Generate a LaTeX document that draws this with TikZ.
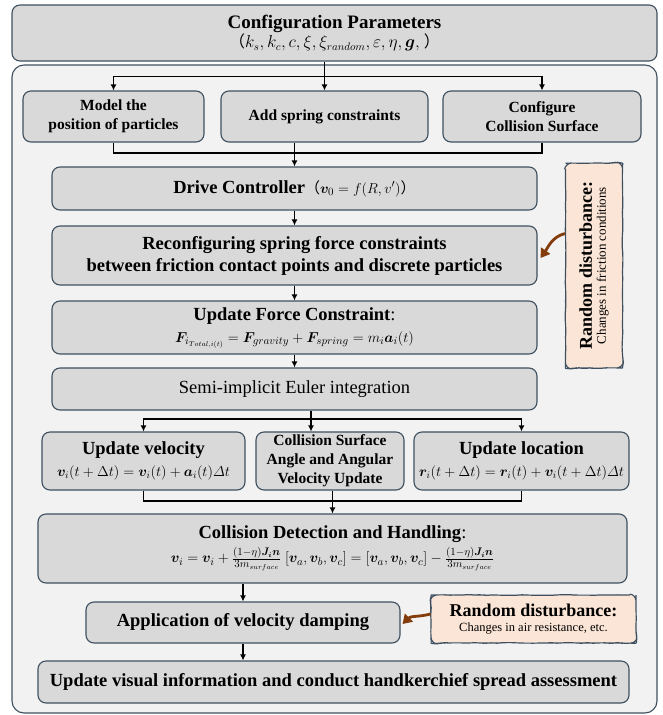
\documentclass[tikz,border=0pt]{standalone}
\usepackage{fontspec}
\usepackage{amsmath}
\usepackage{bm}
\setmainfont{Liberation Serif}
\newfontfamily\cjk{Noto Sans CJK SC}
\usetikzlibrary{arrows.meta,decorations.pathmorphing,calc}

\definecolor{boxfill}{HTML}{D9D9D9}
\definecolor{edge}{HTML}{3E5060}
\definecolor{panel}{HTML}{F2F2F2}
\definecolor{peach}{HTML}{FBE5D6}
\definecolor{rust}{HTML}{843C0C}

\begin{document}
\begin{tikzpicture}[x=1pt,y=1pt,
		box/.style={draw=edge,fill=boxfill,rounded corners=8pt,line width=1.1pt,align=center,inner sep=2pt},
		big/.style={font=\fontsize{18.5}{22}\selectfont\bfseries},
		mid/.style={font=\fontsize{15.5}{19}\selectfont\bfseries},
		note/.style={draw=edge,fill=peach,line width=1.1pt,align=center,inner sep=2pt,
			decorate,decoration={random steps,segment length=6pt,amplitude=0.4pt},rounded corners=6pt},
		line/.style={line width=1.8pt},
		arr/.style={line width=1.8pt,-{Latex[length=6pt,width=6pt]}},
		hint/.style={rust,line width=2.8pt,-{Triangle[length=9pt,width=11pt]}}
	]
	\pgfmathsetseed{7}
	\useasboundingbox (0,0) rectangle (662,-715);

	% outer panel
	\draw[draw=edge,fill=panel,line width=1.1pt,rounded corners=12pt] (12,-65) rectangle (657,-713);

	% parameters
	\node[box,minimum width=645pt,minimum height=56pt] (config) at (334.5,-33)
		{{\fontsize{19}{23}\selectfont\bfseries Configuration Parameters}\\
		 {\fontsize{16}{19}\selectfont{\cjk （}$k_s, k_c, c, \xi, \xi_{random}, \varepsilon, \eta, \bm{g},$\ {\cjk ）}}};

	% first row
	\node[box,mid,minimum width=181pt,minimum height=51pt] (model) at (113.5,-116.5) {Model the\\position of particles};
	\node[box,mid,minimum width=207pt,minimum height=51pt] (spring) at (324.5,-116.5) {Add spring constraints};
	\node[box,mid,minimum width=198pt,minimum height=51pt] (surface) at (542,-116.5) {Configure\\Collision Surface};

	% main column
	\node[box,big,minimum width=485pt,minimum height=43pt] (drive) at (294.5,-188.5)
		{Drive Controller{\mdseries\fontsize{15}{18}\selectfont{\cjk （}$\bm{v}_0 = f(R,v')${\cjk ）}}};
	\node[box,big,minimum width=485pt,minimum height=59pt] (reconfig) at (294.5,-255.5)
		{Reconfiguring spring force constraints\\between friction contact points and discrete particles};
	\node[box,big,minimum width=485pt,minimum height=53pt] (force) at (294.5,-327.5)
		{Update Force Constraint{\mdseries :}\\
		 {\mdseries\fontsize{15}{17}\selectfont$\bm{F}_{i_{Total,i(t)}} = \bm{F}_{gravity} + \bm{F}_{spring} = m_i\bm{a}_i(t)$}};
	\node[box,font=\fontsize{18.5}{22}\selectfont,minimum width=485pt,minimum height=42pt] (euler) at (294.5,-389)
		{Semi-implicit Euler integration};

	% second row
	\node[box,big,minimum width=203pt,minimum height=58pt] (velocity) at (143.5,-461)
		{Update velocity\\
		 {\mdseries\fontsize{14}{17}\selectfont$\bm{v}_i(t+\Delta t) = \bm{v}_i(t) + \bm{a}_i(t)\varDelta t$}};
	\node[box,mid,minimum width=148pt,minimum height=58pt] (angle) at (330,-461)
		{Collision Surface\\Angle and Angular\\Velocity Update};
	\node[box,big,minimum width=215pt,minimum height=58pt] (location) at (521.5,-461)
		{Update location\\
		 {\mdseries\fontsize{14}{17}\selectfont$\bm{r}_i(t+\Delta t) = \bm{r}_i(t) + \bm{v}_i(t+\Delta t)\varDelta t$}};

	% lower column
	\node[box,big,minimum width=589pt,minimum height=69pt] (collision) at (332.5,-548.5)
		{Collision Detection and Handling{\mdseries :}\\[2pt]
		 {\mdseries\fontsize{15}{18}\selectfont$\bm{v}_i = \bm{v}_i + \frac{(1-\eta)\bm{J_i n}}{3m_{surface}}\ [\bm{v}_a,\bm{v}_b,\bm{v}_c] = [\bm{v}_a,\bm{v}_b,\bm{v}_c] - \frac{(1-\eta)\bm{J_i n}}{3m_{surface}}$}};
	\node[box,big,minimum width=314pt,minimum height=41pt] (damping) at (243,-622.5)
		{Application of velocity damping};
	\node[box,big,minimum width=591pt,minimum height=42pt] (final) at (333.5,-682)
		{Update visual information and conduct handkerchief spread assessment};

	% disturbances
	\node[note,rotate=90,minimum width=205pt,minimum height=57pt] (dist1) at (594,-265.5)
		{{\fontsize{18}{20}\selectfont\bfseries Random disturbance:}\\[2pt]
		 {\fontsize{13}{15}\selectfont Changes in friction conditions}};
	\node[note,minimum width=205pt,minimum height=48pt] (dist2) at (533.5,-619)
		{{\fontsize{18}{20}\selectfont\bfseries Random disturbance:}\\[3pt]
		 {\fontsize{12.5}{15}\selectfont Changes in air resistance, etc.}};

	% connectors
	\coordinate (fork) at ($(spring.north)+(0,14)$);
	\draw[line] (config.south -| fork) -- (fork);
	\foreach \n in {model,spring,surface}
		{
		\draw[arr] (fork) -| (\n.north);
		}
	\coordinate (join) at (0,-153);
	\draw[line] (model.south) |- (surface.south |- join) -- (surface.south);
	\draw[arr] (spring.south -| drive.north) -- (drive.north);
	\draw[arr] (drive) -- (reconfig);
	\draw[arr] (reconfig) -- (force);
	\draw[arr] (force) -- (euler);

	\coordinate (split) at (311,-419);
	\draw[line] (euler.south -| split) -- (split);
	\foreach \n in {velocity,location}
		{
		\draw[arr] (split) -| (\n.north);
		}
	\draw[arr] (split) -- (split |- angle.north);

	\coordinate (merge) at (0,-501);
	\draw[line] (velocity.south) |- (location.south |- merge) -- (location.south);
	\draw[arr] (angle.south -| collision.north) -- (collision.north);
	\draw[arr] (collision.south -| damping.north) -- (damping.north);
	\draw[arr] (damping.south) -- (damping.south |- final.north);

	\draw[hint] ([yshift=32pt]dist1.north) to[out=195,in=55] ([xshift=3pt,yshift=-2.5pt]reconfig.east);
	\draw[hint] ([yshift=5pt]dist2.west) to[out=195,in=45] ([xshift=2pt,yshift=-1.5pt]damping.east);
\end{tikzpicture}
\end{document}
